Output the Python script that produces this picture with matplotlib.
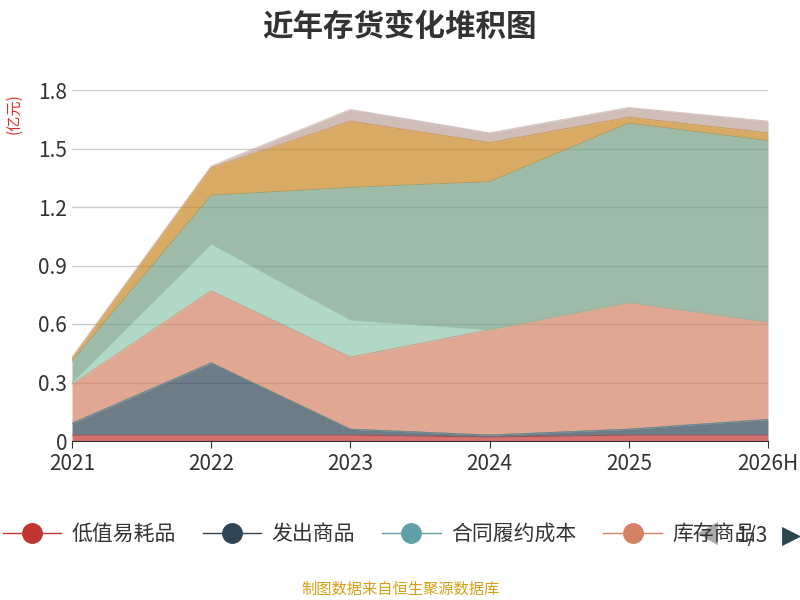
import matplotlib.pyplot as plt
from matplotlib.lines import Line2D
import numpy as np

plt.rcParams['font.family'] = ['Noto Sans CJK SC', 'DejaVu Sans']

years = ['2021', '2022', '2023', '2024', '2025', '2026H']
names = ['低值易耗品', '发出商品', '合同履约成本', '库存商品', '原材料', '在产品', '委托加工物资', '周转材料']
colors = ['#c23531', '#2f4554', '#61a0a8', '#d48265', '#91c7ae', '#749f83', '#ca8622', '#bda29a']

# 各层数值（亿元）
dizhi = [0.03, 0.03, 0.03, 0.02, 0.03, 0.03]
fachu = [0.06, 0.37, 0.03, 0.01, 0.03, 0.08]
hetong = [0.0, 0.0, 0.0, 0.0, 0.0, 0.0]
kucun = [0.20, 0.37, 0.37, 0.54, 0.65, 0.50]
yuancl = [0.01, 0.24, 0.19, 0.0, 0.0, 0.0]
zaichan = [0.11, 0.25, 0.68, 0.76, 0.92, 0.93]
weituo = [0.01, 0.14, 0.34, 0.20, 0.03, 0.04]
zhouzhuan = [0.01, 0.01, 0.06, 0.05, 0.05, 0.06]
series = [dizhi, fachu, hetong, kucun, yuancl, zaichan, weituo, zhouzhuan]

fig = plt.figure(figsize=(8, 6), dpi=100)
ax = fig.add_axes([0.09, 0.265, 0.87, 0.585])
x = np.arange(len(years))
base = np.zeros(len(years))
for vals, c in zip(series, colors):
    top = base + np.array(vals)
    ax.fill_between(x, base, top, color=c, alpha=0.7, linewidth=0)
    ax.plot(x, top, color=c, alpha=0.6, linewidth=0.8)
    base = top

ax.set_xlim(0, len(years) - 1)
ax.set_ylim(0, 1.8)
ax.set_yticks(np.arange(0, 1.81, 0.3))
ax.set_yticklabels(['0', '0.3', '0.6', '0.9', '1.2', '1.5', '1.8'])
ax.set_xticks(x)
ax.set_xticklabels(years)
ax.tick_params(labelsize=15, colors='#333333', length=5)
ax.tick_params(axis='y', length=0)
ax.grid(axis='y', color='#cccccc', linewidth=1)
ax.set_axisbelow(True)
for s in ['top', 'right', 'left']:
    ax.spines[s].set_visible(False)
ax.spines['bottom'].set_color('#333333')

fig.text(0.5, 0.955, '近年存货变化堆积图', ha='center', va='center', fontsize=22, fontweight='bold', color='#333333')
fig.text(0.018, 0.81, '(亿元)', rotation=90, ha='center', va='center', fontsize=11, color='#e0302a')

handles = [Line2D([0], [0], color=c, marker='o', markersize=14, linewidth=1) for c in colors[:4]]
leg = fig.legend(handles, names[:4], loc='center left', bbox_to_anchor=(-0.02, 0.11), ncol=4,
                 frameon=False, fontsize=15, handlelength=2.8, columnspacing=1.3, handletextpad=0.5)
for t in leg.get_texts():
    t.set_color('#333333')
fig.patches.append(plt.Rectangle((0.86, 0.07), 0.15, 0.08, transform=fig.transFigure, color='white', zorder=3))
fig.text(0.885, 0.107, '◀', ha='center', va='center', fontsize=18, color='#aaaaaa', zorder=4)
fig.text(0.94, 0.107, '1/3', ha='center', va='center', fontsize=15, color='#333333', zorder=4)
fig.text(0.99, 0.107, '▶', ha='center', va='center', fontsize=18, color='#2f4554', family='DejaVu Sans', zorder=4)

fig.text(0.5, 0.018, '制图数据来自恒生聚源数据库', ha='center', va='center', fontsize=11, color='#d4a017')

fig.savefig('out.png')
